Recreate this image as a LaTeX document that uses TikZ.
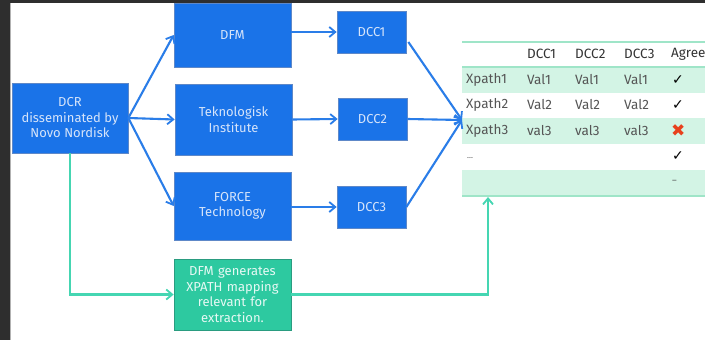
\documentclass[tikz,border=0pt]{standalone}
\usepackage{fontspec}
\setmainfont{Fira Sans}
\newfontfamily\symfont{DejaVu Sans}
\usetikzlibrary{arrows.meta}
\definecolor{frameclr}{HTML}{2E2E2E}
\definecolor{boxblue}{HTML}{1A73E8}
\definecolor{boxedge}{HTML}{5E88C8}
\definecolor{arrowblue}{HTML}{2A7DE8}
\definecolor{boxtext}{HTML}{D6E4FA}
\definecolor{greenbox}{HTML}{2DC9A0}
\definecolor{greenedge}{HTML}{2A9C80}
\definecolor{greenline}{HTML}{45D6B2}
\definecolor{rowfill}{HTML}{D3F4E5}
\definecolor{rule}{HTML}{9FE5C8}
\definecolor{celltext}{HTML}{555555}
\definecolor{headtext}{HTML}{333333}
\definecolor{crossred}{HTML}{E8401C}
\tikzset{
  bluebox/.style={draw=boxedge, line width=0.7pt, fill=boxblue, text=boxtext, align=center, inner sep=2pt, font=\fontsize{13}{15.5}\selectfont},
  greenbx/.style={draw=greenedge, line width=0.7pt, fill=greenbox, text=white!88!greenbox, align=center, inner sep=2pt, font=\fontsize{13}{15.5}\selectfont},
  bluearrow/.style={draw=arrowblue, line width=2.1pt, -{Straight Barb[length=6pt,width=10pt,line width=1.8pt]}},
  greenarrow/.style={draw=greenline, line width=2.3pt, -{Straight Barb[length=6pt,width=10pt,line width=1.8pt]}},
  cell/.style={anchor=west, text=celltext, inner sep=0pt, font=\fontsize{13.5}{15}\selectfont},
  headcell/.style={anchor=west, text=headtext, inner sep=0pt, font=\fontsize{13.5}{15}\selectfont},
  tick/.style={anchor=west, text=black, inner sep=0pt, font=\symfont\fontsize{14}{15}\selectfont}
}
\begin{document}
\begin{tikzpicture}[x=1pt,y=-1pt]
\useasboundingbox (0,0) rectangle (705,340);
\clip (0,0) rectangle (705,340);
\fill[white] (0,0) rectangle (705,340);
% table
\fill[rowfill] (462,67) rectangle (705,93);
\fill[rowfill] (462,118) rectangle (705,144);
\fill[rowfill] (462,170) rectangle (705,196);
\draw[rule, line width=2pt] (462,42) -- (705,42);
\draw[rule, line width=1.2pt] (462,67) -- (705,67);
\draw[rule, line width=2pt] (462,196) -- (705,196);
\node[headcell] (h1) at (527,54) {DCC1};
\node[headcell] (h2) at (575,54) {DCC2};
\node[headcell] (h3) at (624,54) {DCC3};
\node[headcell] (h4) at (671,54) {Agree};
\node[cell] (r1a) at (466,80) {Xpath1};
\node[cell] (r1b) at (527,80) {Val1};
\node[cell] (r1c) at (575,80) {Val1};
\node[cell] (r1d) at (624,80) {Val1};
\node[tick] (r1e) at (672,80) {✓};
\node[cell] (r2a) at (466,105) {Xpath2};
\node[cell] (r2b) at (527,105) {Val2};
\node[cell] (r2c) at (575,105) {Val2};
\node[cell] (r2d) at (624,105) {Val2};
\node[tick] (r2e) at (672,105) {✓};
\node[cell] (r3a) at (466,131) {Xpath3};
\node[cell] (r3b) at (527,131) {val3};
\node[cell] (r3c) at (575,131) {val3};
\node[cell] (r3d) at (624,131) {val3};
\node[tick, text=crossred, font=\symfont\fontsize{17}{18}\selectfont] (r3e) at (671,131) {✖};
\node[cell, font=\fontsize{8}{9}\selectfont] (r4a) at (467,158) {...};
\node[tick] (r4e) at (672,156) {✓};
\node[cell, font=\fontsize{9}{10}\selectfont] (r5e) at (672,182) {–};
\coordinate (conv) at (462,120);
\coordinate (tabbot) at (488,197);
% boxes
\node[bluebox, minimum width=116pt, minimum height=70pt] (dcr) at (70,118) {DCR\\disseminated by\\Novo Nordisk};
\node[bluebox, minimum width=117pt, minimum height=64pt] (dfm) at (232.5,35) {DFM};
\node[bluebox, minimum width=117pt, minimum height=71pt] (tek) at (233.5,119.5) {Teknologisk\\Institute};
\node[bluebox, minimum width=117pt, minimum height=68pt] (force) at (232.5,206) {FORCE\\Technology};
\node[bluebox, minimum width=69pt, minimum height=42pt] (dcc1) at (371.5,32) {DCC1};
\node[bluebox, minimum width=69pt, minimum height=42pt] (dcc2) at (372.5,119) {DCC2};
\node[bluebox, minimum width=69pt, minimum height=42pt] (dcc3) at (371.5,207) {DCC3};
\node[greenbx, minimum width=117pt, minimum height=71pt, text width=112pt] (gen) at (232.5,294.5) {DFM generates\\XPATH mapping\\relevant for\\extraction.};
% arrows
\draw[bluearrow] (dcr.east) -- (dfm.west);
\draw[bluearrow] (dcr.east) -- (tek.west);
\draw[bluearrow] (dcr.east) -- (force.west);
\draw[bluearrow] (dfm.east |- dcc1.west) -- (dcc1.west);
\draw[bluearrow] (tek.east) -- (dcc2.west);
\draw[bluearrow] (force.east |- dcc3.west) -- (dcc3.west);
\draw[bluearrow] (dcc1.east) ++(2,10) -- (conv);
\draw[bluearrow] (dcc2.east) -- (conv);
\draw[bluearrow] (dcc3.east) -- (conv);
\draw[greenarrow] (dcr.south) |- (gen.west);
\draw[greenarrow] (gen.east) -| (tabbot);
% frame
\fill[frameclr] (0,0) rectangle (10,340);
\fill[frameclr] (0,0) rectangle (705,3);
\draw[gray!60, line width=0.6pt] (10.3,3) -- (10.3,340);
\end{tikzpicture}
\end{document}
